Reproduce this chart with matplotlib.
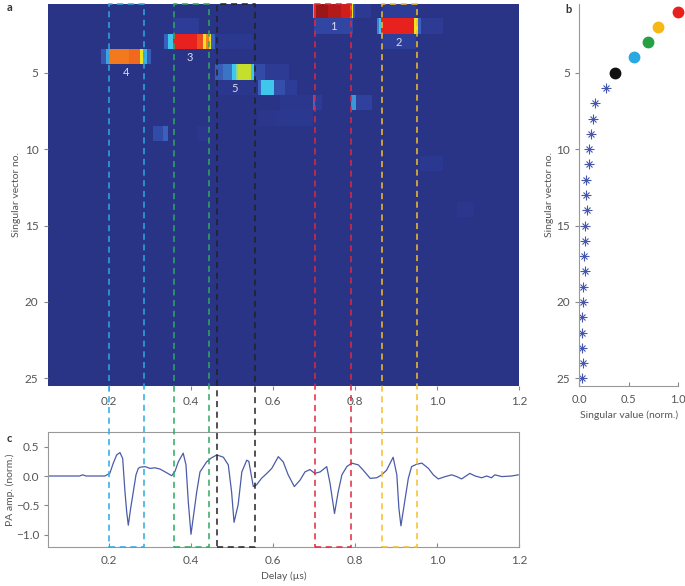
import numpy as np
import matplotlib
matplotlib.use("Agg")
import matplotlib.pyplot as plt
from matplotlib.colors import LinearSegmentedColormap
from matplotlib.patches import Rectangle

plt.rcParams['font.family'] = ['Lato', 'DejaVu Sans']

# ---- data ----
# heatmap blocks: (singular vector no., delay start, delay end, level 0..1)
blocks = [
    (1, 0.697, 0.700, 0.45), (1, 0.700, 0.704, 0.85), (1, 0.704, 0.735, 1.0),
    (1, 0.735, 0.765, 0.95), (1, 0.765, 0.788, 0.90), (1, 0.788, 0.792, 0.80),
    (1, 0.792, 0.796, 0.68), (1, 0.796, 0.800, 0.25), (1, 0.800, 0.840, 0.08),
    (1, 0.866, 0.950, 0.12),
    (2, 0.356, 0.420, 0.12), (2, 0.700, 0.796, 0.18),
    (2, 0.854, 0.858, 0.35), (2, 0.858, 0.864, 0.45), (2, 0.864, 0.945, 0.86),
    (2, 0.945, 0.955, 0.68), (2, 0.955, 0.962, 0.30), (2, 0.962, 1.015, 0.10),
    (3, 0.334, 0.345, 0.30), (3, 0.345, 0.357, 0.45), (3, 0.357, 0.414, 0.86),
    (3, 0.414, 0.430, 0.81), (3, 0.430, 0.438, 0.68), (3, 0.438, 0.445, 0.75),
    (3, 0.445, 0.450, 0.66), (3, 0.450, 0.459, 0.30), (3, 0.459, 0.551, 0.06),
    (3, 0.866, 0.950, 0.15),
    (4, 0.182, 0.194, 0.25), (4, 0.194, 0.201, 0.40), (4, 0.201, 0.250, 0.76),
    (4, 0.250, 0.276, 0.78), (4, 0.276, 0.284, 0.66), (4, 0.284, 0.293, 0.42),
    (4, 0.293, 0.304, 0.28),
    (5, 0.459, 0.479, 0.28), (5, 0.479, 0.500, 0.33), (5, 0.500, 0.510, 0.45),
    (5, 0.510, 0.515, 0.52), (5, 0.515, 0.548, 0.60), (5, 0.548, 0.555, 0.45),
    (5, 0.555, 0.580, 0.20), (5, 0.580, 0.640, 0.10),
    (6, 0.460, 0.560, 0.05), (6, 0.563, 0.572, 0.30), (6, 0.572, 0.602, 0.45),
    (6, 0.602, 0.630, 0.22), (6, 0.630, 0.659, 0.12),
    (7, 0.617, 0.697, 0.04), (7, 0.697, 0.702, 0.32), (7, 0.702, 0.720, 0.10),
    (7, 0.790, 0.802, 0.38), (7, 0.802, 0.841, 0.16),
    (8, 0.563, 0.610, 0.04), (8, 0.610, 0.697, 0.06),
    (9, 0.307, 0.332, 0.20), (9, 0.332, 0.344, 0.30), (9, 0.415, 0.441, 0.05),
    (11, 0.958, 1.015, 0.06),
    (14, 1.050, 1.090, 0.04),
]
vector_labels = ["1", "2", "3", "4", "5"]
label_delay = [0.746, 0.907, 0.398, 0.241, 0.507]
label_row = [2, 3, 4, 5, 6]

# singular values (panel b)
vector_no = list(range(1, 26))
singular_value = [1.0, 0.80, 0.70, 0.55, 0.36, 0.27, 0.155, 0.135, 0.12, 0.10,
                  0.10, 0.07, 0.07, 0.08, 0.055, 0.055, 0.05, 0.055, 0.037, 0.037,
                  0.03, 0.03, 0.03, 0.037, 0.024]
dot_colors = ['#e8201c', '#f5b814', '#27a043', '#2aa8e2', '#111111']

# PA signal (panel c)
delay = [0.052, 0.105, 0.128, 0.136, 0.144, 0.154, 0.190, 0.202, 0.2105, 0.2188,
         0.2268, 0.2334, 0.239, 0.2432, 0.2471, 0.2529, 0.2593, 0.2659, 0.2715, 0.276,
         0.288, 0.300, 0.312, 0.324, 0.337, 0.353, 0.361, 0.369, 0.381, 0.3878,
         0.3934, 0.400, 0.414, 0.422, 0.438, 0.450, 0.463, 0.479, 0.491, 0.499,
         0.505, 0.515, 0.524, 0.536, 0.541, 0.552, 0.560, 0.572, 0.585, 0.597,
         0.613, 0.625, 0.637, 0.652, 0.666, 0.678, 0.690, 0.702, 0.715, 0.731,
         0.739, 0.750, 0.759, 0.768, 0.780, 0.792, 0.808, 0.820, 0.837, 0.853,
         0.865, 0.877, 0.893, 0.902, 0.907, 0.912, 0.920, 0.930, 0.938, 0.950,
         0.963, 0.979, 0.991, 1.003, 1.020, 1.036, 1.048, 1.060, 1.080, 1.093,
         1.109, 1.121, 1.133, 1.141, 1.158, 1.182, 1.198]
amplitude = [0.0, 0.0, 0.0, 0.02, 0.0, 0.0, 0.0, 0.045, 0.22, 0.36,
             0.40, 0.30, -0.27, -0.61, -0.84, -0.55, -0.27, 0.02, 0.13, 0.15,
             0.16, 0.13, 0.14, 0.12, 0.07, 0.005, 0.08, 0.24, 0.39, 0.19,
             -0.44, -0.995, -0.27, 0.07, 0.24, 0.31, 0.36, 0.32, 0.19, -0.27,
             -0.79, -0.49, 0.07, 0.27, 0.25, -0.18, -0.15, -0.04, 0.045, 0.13,
             0.33, 0.24, 0.02, -0.18, -0.07, 0.07, 0.11, 0.045, 0.07, 0.16,
             -0.12, -0.64, -0.27, 0.02, 0.16, 0.22, 0.19, 0.10, -0.04, -0.03,
             0.02, 0.10, 0.32, 0.02, -0.55, -0.85, -0.49, -0.04, 0.16, 0.20,
             0.22, 0.13, 0.02, -0.05, -0.01, 0.02, -0.01, -0.05, 0.045, 0.0,
             -0.03, 0.0, -0.03, 0.02, -0.01, 0.0, 0.02]

# time windows (dashed boxes)
windows = [(0.200, 0.286), (0.358, 0.444), (0.464, 0.556), (0.702, 0.791), (0.866, 0.952)]
window_colors = ['#2aaae2', '#2ea860', '#222222', '#e0283c', '#f5c02a']

# ---- figure ----
x0, x1 = 0.052, 1.2
grey = '#555555'
fig = plt.figure(figsize=(6.85, 5.86), dpi=100)

ax_a = fig.add_axes([0.0705, 0.3413, 0.6872, 0.6519])
ax_b = fig.add_axes([0.8457, 0.3413, 0.1441, 0.6519])
ax_c = fig.add_axes([0.0705, 0.0671, 0.6872, 0.1952])

cmap = LinearSegmentedColormap.from_list('svd', [
    (0.0, '#2a3487'), (0.15, '#2f409c'), (0.3, '#3a62bc'), (0.45, '#3fc6ee'),
    (0.53, '#8ed8a0'), (0.6, '#c4df2c'), (0.68, '#f7e51e'), (0.76, '#f47a20'),
    (0.86, '#e8221f'), (1.0, '#9b1616')])

ncol = 1148
centers = np.linspace(x0, x1, ncol, endpoint=False) + (x1 - x0) / ncol / 2
img = np.zeros((25, ncol))
for row, s, e, v in blocks:
    sel = (centers >= s) & (centers < e)
    img[row - 1, sel] = v

ax_a.imshow(img, cmap=cmap, vmin=0, vmax=1, aspect='auto', interpolation='nearest',
            extent=[x0, x1, 25.5, 0.5])
for t, xd, r in zip(vector_labels, label_delay, label_row):
    ax_a.text(xd, r, t, color='#d8dcf0', fontsize=8, ha='center', va='center')
ax_a.set_xlim(x0, x1)
ax_a.set_ylim(25.5, 0.5)
ax_a.set_yticks([5, 10, 15, 20, 25])
ax_a.set_xticks([0.2, 0.4, 0.6, 0.8, 1.0, 1.2])
ax_a.set_xticklabels(['0.2', '0.4', '0.6', '0.8', '1.0', '1.2'])
for sp in ax_a.spines.values():
    sp.set_visible(False)
ax_a.tick_params(colors='#888888', labelcolor=grey, labelsize=8.5, length=3, pad=4)
ax_a.set_ylabel('Singular vector no.', color=grey, fontsize=7.5, labelpad=3)

# panel b
ax_b.plot(singular_value[5:], vector_no[5:], ls='none', marker='+', ms=7,
          mew=0.8, color='#4656ac')
ax_b.plot(singular_value[5:], vector_no[5:], ls='none', marker='x', ms=5,
          mew=0.8, color='#4656ac')
for v, n, c in zip(singular_value[:5], vector_no[:5], dot_colors):
    ax_b.plot(v, n, 'o', ms=7.5, color=c, mec=c, clip_on=False, zorder=3)
ax_b.set_xlim(0, 1.0)
ax_b.set_ylim(25.5, 0.5)
ax_b.set_yticks([5, 10, 15, 20, 25])
ax_b.set_xticks([0.0, 0.5, 1.0])
ax_b.set_xticklabels(['0.0', '0.5', '1.0'])
ax_b.spines['top'].set_visible(False)
ax_b.spines['right'].set_visible(False)
for sp in ('left', 'bottom'):
    ax_b.spines[sp].set_color('#999999')
ax_b.tick_params(axis='y', colors='#888888', labelcolor=grey, labelsize=8.5, length=3)
ax_b.tick_params(axis='x', direction='in', colors='#888888', labelcolor=grey,
                 labelsize=8, length=3, pad=6)
ax_b.set_ylabel('Singular vector no.', color=grey, fontsize=7.5, labelpad=2)
ax_b.set_xlabel('Singular value (norm.)', color=grey, fontsize=7.5, labelpad=4)

# panel c
ax_c.plot(delay, amplitude, color='#4b5ca8', lw=0.9)
ax_c.set_xlim(x0, x1)
ax_c.set_ylim(-1.206, 0.746)
ax_c.set_xticks([0.2, 0.4, 0.6, 0.8, 1.0, 1.2])
ax_c.set_xticklabels(['0.2', '0.4', '0.6', '0.8', '1.0', '1.2'])
ax_c.set_yticks([0.5, 0.0, -0.5, -1.0])
ax_c.set_yticklabels(['0.5', '0.0', '\u22120.5', '\u22121.0'])
for sp in ax_c.spines.values():
    sp.set_color('#999999')
ax_c.tick_params(axis='x', direction='in', colors='#888888', labelcolor=grey,
                 labelsize=8.5, length=3, pad=6)
ax_c.tick_params(axis='y', colors='#888888', labelcolor=grey, labelsize=8.5, length=3)
ax_c.set_ylabel('PA amp. (norm.)', color=grey, fontsize=7.5, labelpad=1)
ax_c.set_xlabel('Delay (\u00b5s)', color=grey, fontsize=7.5, labelpad=4)

# dashed windows across panels a and c
ax_o = fig.add_axes([0.0705, 0.0671, 0.6872, 0.9261])
ax_o.set_xlim(x0, x1)
ax_o.set_ylim(0, 1)
ax_o.axis('off')
ax_o.patch.set_alpha(0)
for (s, e), c in zip(windows, window_colors):
    ax_o.add_patch(Rectangle((s, 0), e - s, 1, fill=False, edgecolor=c, lw=1.1,
                             ls=(0, (4, 3)), clip_on=False))

fig.text(0.010, 0.982, 'a', fontsize=8, fontweight='bold', color='#333333')
fig.text(0.825, 0.978, 'b', fontsize=8, fontweight='bold', color='#333333')
fig.text(0.010, 0.245, 'c', fontsize=8, fontweight='bold', color='#333333')

fig.savefig('out.png', dpi=100)
